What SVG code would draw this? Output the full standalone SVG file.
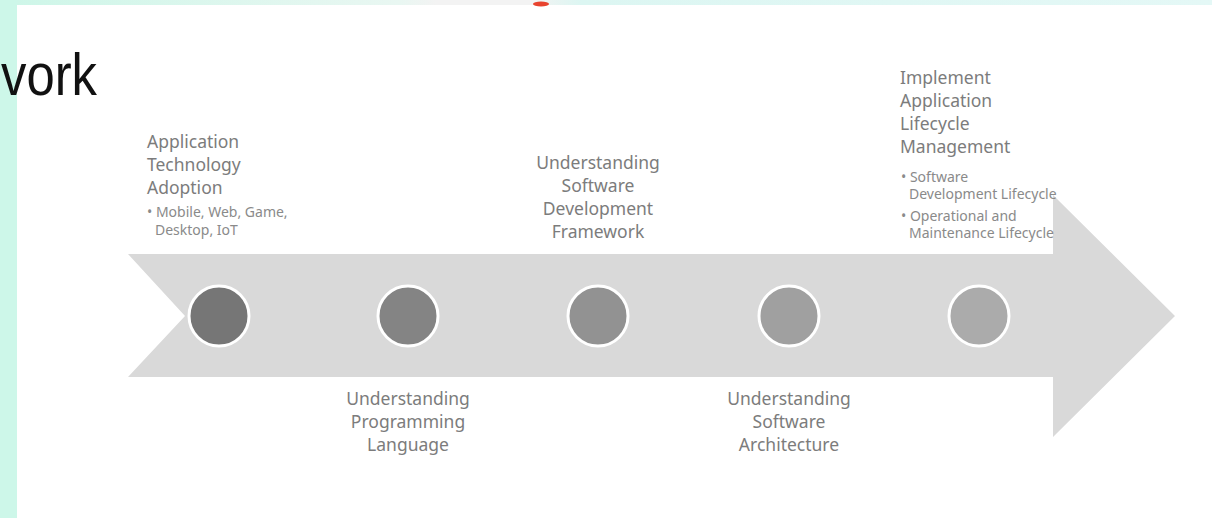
<svg xmlns="http://www.w3.org/2000/svg" width="1212" height="518" viewBox="0 0 1212 518">
<defs>
<style>
.t{font-family:"Noto Sans","Open Sans",sans-serif;font-size:17.5px;fill:#7c7c7c}
.s{font-family:"Noto Sans","Open Sans",sans-serif;font-size:14px;fill:#8a8a8a}
.c{text-anchor:middle}
.dot{stroke:#ffffff;stroke-width:3}
</style>
<linearGradient id="top" x1="0" y1="0" x2="1" y2="0">
<stop offset="0" stop-color="#cdf6e8"/>
<stop offset="0.33" stop-color="#e9f7f2"/>
<stop offset="0.36" stop-color="#f3f3f3"/>
<stop offset="0.44" stop-color="#f3f3f3"/>
<stop offset="0.48" stop-color="#dcf6f2"/>
<stop offset="1" stop-color="#e4f8f6"/>
</linearGradient>
</defs>
<rect x="0" y="0" width="1212" height="518" fill="#ffffff"/>
<rect x="0" y="0" width="1212" height="5" fill="url(#top)"/>
<rect x="0" y="0" width="17" height="518" fill="#cdf7e9"/>
<ellipse cx="541" cy="4" rx="8" ry="2.5" fill="#e8432e"/>
<text x="1" y="95" font-family="Liberation Sans, Arial, sans-serif" font-size="59" fill="#111111" textLength="96" lengthAdjust="spacingAndGlyphs">vork</text>
<g id="arrow">
<path d="M128,254 L1053,254 L1053,195 L1175,316 L1053,437 L1053,377 L128,377 L185,316 Z" fill="#d9d9d9"/>
</g>
<g id="connectors"></g>
<g id="node1">
<circle class="dot" cx="219" cy="316" r="30" fill="#767676"/>
<text class="t" x="147" y="148">Application</text>
<text class="t" x="147" y="171">Technology</text>
<text class="t" x="147" y="194">Adoption</text>
<text class="s" x="147" y="217">• Mobile, Web, Game,</text>
<text class="s" x="155" y="235">Desktop, IoT</text>
</g>
<g id="node2">
<circle class="dot" cx="408" cy="316" r="30" fill="#848484"/>
<text class="t c" x="408" y="405">Understanding</text>
<text class="t c" x="408" y="428">Programming</text>
<text class="t c" x="408" y="451">Language</text>
</g>
<g id="node3">
<circle class="dot" cx="598" cy="316" r="30" fill="#929292"/>
<text class="t c" x="598" y="169">Understanding</text>
<text class="t c" x="598" y="192">Software</text>
<text class="t c" x="598" y="215">Development</text>
<text class="t c" x="598" y="238">Framework</text>
</g>
<g id="node4">
<circle class="dot" cx="789" cy="316" r="30" fill="#a0a0a0"/>
<text class="t c" x="789" y="405">Understanding</text>
<text class="t c" x="789" y="428">Software</text>
<text class="t c" x="789" y="451">Architecture</text>
</g>
<g id="node5">
<circle class="dot" cx="979" cy="316" r="30" fill="#ababab"/>
<text class="t" x="900" y="84">Implement</text>
<text class="t" x="900" y="107">Application</text>
<text class="t" x="900" y="130">Lifecycle</text>
<text class="t" x="900" y="153">Management</text>
<text class="s" x="901" y="182">• Software</text>
<text class="s" x="909" y="199">Development Lifecycle</text>
<text class="s" x="901" y="221">• Operational and</text>
<text class="s" x="909" y="238">Maintenance Lifecycle</text>
</g>
</svg>
